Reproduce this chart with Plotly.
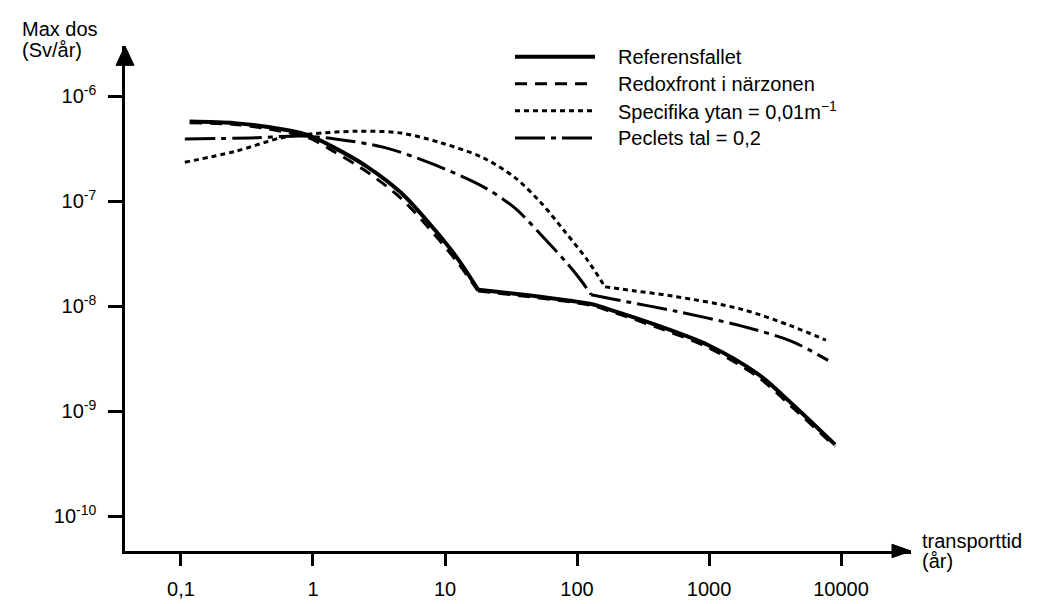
import plotly.graph_objects as go

# transporttid (år) and max dos (Sv/år)
ref_x = [0.1164, 0.255, 0.456, 0.916, 1.46, 2.61, 4.67, 8.36, 12.5, 17.8,
         128, 172, 411, 982, 2350, 4180, 9020]
ref_y = [5.75e-7, 5.56e-7, 5.11e-7, 4.27e-7, 3.23e-7, 2.11e-7, 1.2e-7, 5.35e-8, 2.83e-8, 1.44e-8,
         1.05e-8, 9.4e-9, 6.54e-9, 4.28e-9, 2.26e-9, 1.2e-9, 4.8e-10]

redox_x = [0.1164, 0.255, 0.456, 0.916, 1.46, 2.61, 4.67, 8.36, 12.5, 17.8,
           128, 172, 411, 982, 2350, 4180, 9020]
redox_y = [5.6e-7, 5.4e-7, 4.9e-7, 4.05e-7, 2.95e-7, 1.88e-7, 1.06e-7, 4.8e-8, 2.6e-8, 1.4e-8,
           1.02e-8, 9.1e-9, 6.25e-9, 4.05e-9, 2.12e-9, 1.12e-9, 4.6e-10]

spec_x = [0.107, 0.257, 0.573, 0.966, 2.19, 4.64, 9.33, 19.4, 33.9, 53.3, 81.1, 121,
          163, 275, 552, 1746, 4180, 7690]
spec_y = [2.36e-7, 2.99e-7, 4.02e-7, 4.38e-7, 4.66e-7, 4.47e-7, 3.61e-7, 2.6e-7, 1.68e-7,
          9.7e-8, 5.13e-8, 2.71e-8, 1.53e-8, 1.4e-8, 1.24e-8, 9.4e-9, 6.5e-9, 4.75e-9]

peclet_x = [0.107, 0.339, 0.811, 1.47, 3.51, 8.4, 19.4, 33.9, 53.3, 81.1, 107, 128,
            194, 552, 1746, 4180, 7980]
peclet_y = [3.93e-7, 4.02e-7, 4.19e-7, 3.93e-7, 3.25e-7, 2.22e-7, 1.38e-7, 8.6e-8, 4.81e-8,
            2.71e-8, 1.77e-8, 1.29e-8, 1.16e-8, 9.0e-9, 6.5e-9, 4.66e-9, 3.05e-9]

# where each curve has its sharp bend
kinks = [17.8, 17.8, 163, 128]

series_names = ["Referensfallet", "Redoxfront i närzonen",
                "Specifika ytan = 0,01m<sup>−1</sup>", "Peclets tal = 0,2"]

x_ticks = [0.1, 1, 10, 100, 1000, 10000]
x_ticktext = ["0,1", "1", "10", "100", "1000", "10000"]
y_ticks = [1e-10, 1e-9, 1e-8, 1e-7, 1e-6]
y_ticktext = ["10<sup>-10</sup>", "10<sup>-9</sup>", "10<sup>-8</sup>",
              "10<sup>-7</sup>", "10<sup>-6</sup>"]

W, H = 1037, 604
L, R, T, B = 117, 134, 38, 44
FONT = "Liberation Sans, Arial, sans-serif"


def paper(px, py):
    return (px - L) / (W - L - R), (H - B - py) / (H - T - B)


styles = [
    dict(width=4, dash="solid"),
    dict(width=3, dash="12px,8px"),
    dict(width=3, dash="5px,4px"),
    dict(width=3, dash="30px,6px,5px,6px"),
]
data = [(ref_x, ref_y), (redox_x, redox_y), (spec_x, spec_y), (peclet_x, peclet_y)]

fig = go.Figure()
for (xs, ys), st, name, kx in zip(data, styles, series_names, kinks):
    i = xs.index(kx)
    for part_x, part_y in ((xs[:i + 1], ys[:i + 1]), (xs[i:], ys[i:])):
        fig.add_trace(go.Scatter(x=part_x, y=part_y, mode="lines", name=name,
                                 line=dict(color="black", shape="spline", smoothing=0.9, **st),
                                 showlegend=False))

# hand-made legend (long sample lines like the original)
shapes = []
annotations = []
for i, (st, name) in enumerate(zip(styles, series_names)):
    yy = 49 + 28 * i
    x0, y0 = paper(507, yy)
    x1, _ = paper(587, yy)
    shapes.append(dict(type="line", xref="paper", yref="paper", x0=x0, x1=x1, y0=y0, y1=y0,
                       line=dict(color="black", **st)))
    tx, ty = paper(608, yy)
    annotations.append(dict(xref="paper", yref="paper", x=tx, y=ty, text=name,
                            showarrow=False, xanchor="left", yanchor="middle",
                            font=dict(size=20, family=FONT, color="black")))


# arrow heads on the axes
def tri(pts):
    p = [paper(*q) for q in pts]
    return "M {},{} L {},{} L {},{} Z".format(p[0][0], p[0][1], p[1][0], p[1][1], p[2][0], p[2][1])


for pts in ([(108, 58), (126, 58), (117, 38)], [(884, 553), (884, 567), (903, 560)]):
    shapes.append(dict(type="path", xref="paper", yref="paper", path=tri(pts),
                       fillcolor="black", line=dict(color="black", width=1)))

for text, (px, py) in [("Max dos", (12, 20)), ("(Sv/år)", (12, 42)),
                       ("transporttid", (912, 550)), ("(år)", (912, 570))]:
    ax, ay = paper(px, py)
    annotations.append(dict(xref="paper", yref="paper", x=ax, y=ay, text=text, showarrow=False,
                            xanchor="left", yanchor="middle",
                            font=dict(size=20, family=FONT, color="black")))

fig.update_layout(
    width=W, height=H,
    margin=dict(l=L, r=R, t=T, b=B, pad=0),
    plot_bgcolor="white", paper_bgcolor="white",
    font=dict(family=FONT, size=20, color="black"),
    shapes=shapes, annotations=annotations,
)
fig.update_xaxes(type="log", range=[-1.424, 4.530], showgrid=False, zeroline=False,
                 showline=True, linecolor="black", linewidth=2.5,
                 tickvals=x_ticks, ticktext=x_ticktext, ticks="outside", ticklen=12,
                 tickwidth=2.5, tickcolor="black", ticklabelstandoff=6)
fig.update_yaxes(type="log", range=[-10.332, -5.520], showgrid=False, zeroline=False,
                 showline=True, linecolor="black", linewidth=2.5,
                 tickvals=y_ticks, ticktext=y_ticktext, ticks="outside", ticklen=14,
                 tickwidth=2.5, tickcolor="black", ticklabelstandoff=8)

fig.write_html("out.html")
